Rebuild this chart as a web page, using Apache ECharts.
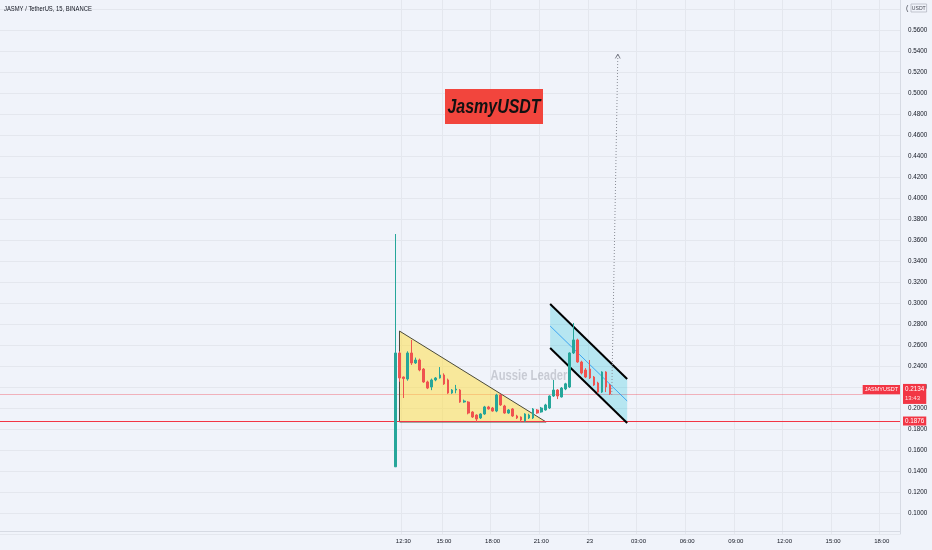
<!DOCTYPE html>
<html><head><meta charset="utf-8">
<script src="https://cdn.jsdelivr.net/npm/echarts@6/dist/echarts.min.js"></script>
<style>html,body{margin:0;padding:0;background:#f0f3fa;} #c{width:932px;height:550px;}</style>
</head><body><div id="c"></div>
<script>
// ---- time slots (15-minute bars) ----
const slotStartDay = 21, slotStartHour = 11, slotStartMinute = 45;
const slotCount = 222;
const xTickSlots  = ['22 12:30','22 15:00','22 18:00','22 21:00','23 00:00','23 03:00','23 06:00','23 09:00','23 12:00','23 15:00','23 18:00'];
const xTickLabels = ['12:30','15:00','18:00','21:00','23','03:00','06:00','09:00','12:00','15:00','18:00'];
const candleStartSlot = '22 12:00';

// ---- price axis ----
const yMin = 0.08, yMax = 0.60, yStep = 0.02;

// ---- candles [open, close, low, high] ----
const candles = [
 [0.1440,0.2524,0.1438,0.3657],[0.2524,0.2286,0.2250,0.2540],[0.2295,0.2280,0.2095,0.2300],[0.2276,0.2524,0.2260,0.2540],
 [0.2524,0.2429,0.2410,0.2648],[0.2429,0.2457,0.2420,0.2480],[0.2457,0.2362,0.2350,0.2470],[0.2371,0.2248,0.2240,0.2380],
 [0.2248,0.2190,0.2180,0.2260],[0.2200,0.2267,0.2170,0.2280],[0.2267,0.2286,0.2255,0.2295],[0.2286,0.2314,0.2280,0.2390],
 [0.2314,0.2229,0.2220,0.2330],[0.2267,0.2143,0.2135,0.2280],[0.2143,0.2171,0.2135,0.2180],[0.2171,0.2180,0.2140,0.2220],
 [0.2171,0.2057,0.2050,0.2180],[0.2057,0.2067,0.2050,0.2080],[0.2057,0.1952,0.1940,0.2065],[0.1962,0.1914,0.1905,0.1970],
 [0.1933,0.1895,0.1867,0.1940],[0.1905,0.1943,0.1895,0.1950],[0.1943,0.2010,0.1935,0.2020],[0.2010,0.1991,0.1985,0.2020],
 [0.2000,0.1971,0.1965,0.2010],[0.1971,0.2124,0.1960,0.2135],[0.2124,0.2029,0.2020,0.2135],[0.2019,0.1952,0.1945,0.2030],
 [0.1952,0.1981,0.1945,0.1990],[0.1991,0.1924,0.1915,0.2000],[0.1924,0.1905,0.1895,0.1935],[0.1914,0.1886,0.1867,0.1920],
 [0.1876,0.1943,0.1867,0.1950],[0.1905,0.1933,0.1895,0.1945],[0.1905,0.1991,0.1895,0.2000],[0.1981,0.1952,0.1945,0.1990],
 [0.1962,0.2000,0.1955,0.2010],[0.1981,0.2029,0.1975,0.2040],[0.2000,0.2114,0.1990,0.2120],[0.2114,0.2171,0.2105,0.2267],
 [0.2171,0.2114,0.2085,0.2180],[0.2105,0.2190,0.2100,0.2200],[0.2181,0.2230,0.2170,0.2240],[0.2200,0.2524,0.2190,0.2530],
 [0.2524,0.2648,0.2514,0.2810],[0.2648,0.2438,0.2430,0.2660],[0.2438,0.2333,0.2320,0.2450],[0.2362,0.2295,0.2285,0.2380],
 [0.2371,0.2286,0.2276,0.2457],[0.2295,0.2219,0.2210,0.2305],[0.2238,0.2152,0.2140,0.2250],[0.2152,0.2343,0.2143,0.2350],
 [0.2343,0.2200,0.2152,0.2350],[0.2219,0.2134,0.2124,0.2229]
];

// ---- price lines ----
const symbolName = 'JASMYUSDT';
const lastPrice = 0.2134, countdown = '13:43';
const supportPrice = 0.1876;

// ---- drawings: [bars after first candle, price] ----
const triangle     = [[1.04,0.2733],[1.04,0.1867],[37.2,0.1867]];
const channelUpper = [[38.2,0.2990],[57.2,0.2276]];
const channelLower = [[38.2,0.2571],[57.2,0.1857]];
const channelMid   = [[38.2,0.2781],[57.2,0.2067]];
const targetArrow  = [[53.4,0.2124],[54.9,0.5371]];

// ---- build ----
const pad = n => (n < 10 ? '0' : '') + n;
const categories = [];
const t0 = Date.UTC(2021, 0, slotStartDay, slotStartHour, slotStartMinute);
for (let i = 0; i < slotCount; i++) {
  const d = new Date(t0 + i * 900000);
  categories.push(pad(d.getUTCDate()) + ' ' + pad(d.getUTCHours()) + ':' + pad(d.getUTCMinutes()));
}
const tickIdx = new Map(xTickSlots.map((s, i) => [categories.indexOf(s), xTickLabels[i]]));
const base = categories.indexOf(candleStartSlot);
const seriesData = categories.map((c, i) => {
  const k = i - base;
  return (k >= 0 && k < candles.length) ? candles[k] : ['-', '-', '-', '-'];
});

const sans = "'Liberation Sans',Arial,sans-serif";
const clear = 'rgba(0,0,0,0)';
const chart = echarts.init(document.getElementById('c'), null, {renderer: 'canvas'});
chart.setOption({
  animation: false,
  backgroundColor: '#f0f3fa',
  grid: {left: 0, right: 32, top: -12, bottom: 16, containLabel: false, outerBoundsMode: 'none'},
  xAxis: {
    type: 'category', data: categories, offset: -3,
    axisLine: {lineStyle: {color: '#d6dae3'}},
    axisTick: {show: false},
    axisLabel: {interval: (i) => tickIdx.has(i), formatter: (v, i) => tickIdx.get(i) || '',
      fontSize: 6, color: '#131722', margin: 7, fontFamily: sans},
    splitLine: {show: true, interval: (i) => tickIdx.has(i), lineStyle: {color: '#e4e7ee'}}
  },
  yAxis: {
    type: 'value', position: 'right', min: yMin, max: yMax, interval: yStep,
    axisLine: {show: true, lineStyle: {color: '#d6dae3'}},
    axisTick: {show: false},
    axisLabel: {showMinLabel: false, showMaxLabel: false, margin: 8, fontSize: 6.3, color: '#131722',
      fontFamily: sans, formatter: v => v > 0.57 ? '' : v.toFixed(4)},
    splitLine: {show: true, lineStyle: {color: '#e4e7ee'}}
  },
  series: [
    {
      type: 'custom', z: 1, silent: true, data: [[0, 0.3]],
      renderItem: (params, api) => {
        const P = (pt) => {
          const ix = base + pt[0], f = Math.floor(ix);
          const a = api.coord([f, pt[1]]), b = api.coord([f + 1, pt[1]]);
          return [a[0] + (b[0] - a[0]) * (ix - f), a[1]];
        };
        const seg = (pts, style) => {
          const a = P(pts[0]), b = P(pts[1]);
          return {type: 'line', shape: {x1: a[0], y1: a[1], x2: b[0], y2: b[1]}, style};
        };
        const cs = params.coordSys;
        const hline = (price, color) => {
          const y = Math.round(api.coord([0, price])[1]) + 0.5;
          return {type: 'line', shape: {x1: cs.x, y1: y, x2: cs.x + cs.width, y2: y}, style: {stroke: color, lineWidth: 1}};
        };
        const aS = P(targetArrow[0]), aE = P(targetArrow[1]);
        const ang = Math.atan2(aE[1] - aS[1], aE[0] - aS[0]);
        const hl = 5, hw = 0.5;
        const h1 = [aE[0] - hl * Math.cos(ang - hw), aE[1] - hl * Math.sin(ang - hw)];
        const h2 = [aE[0] - hl * Math.cos(ang + hw), aE[1] - hl * Math.sin(ang + hw)];
        return {type: 'group', children: [
          hline(lastPrice, 'rgba(242,54,69,0.35)'),
          {type: 'polygon', shape: {points: triangle.map(P)},
            style: {fill: 'rgba(255,222,60,0.5)', stroke: '#4a4a3a', lineWidth: 1}},
          hline(supportPrice, '#f23645'),
          {type: 'polygon', shape: {points: [P(channelUpper[0]), P(channelUpper[1]), P(channelLower[1]), P(channelLower[0])]},
            style: {fill: 'rgba(0,188,212,0.24)'}},
          seg(channelMid, {stroke: 'rgba(33,150,243,0.8)', lineWidth: 1}),
          seg(channelUpper, {stroke: '#000', lineWidth: 2}),
          seg(channelLower, {stroke: '#000', lineWidth: 2}),
          {type: 'line', shape: {x1: aS[0], y1: aS[1], x2: aE[0], y2: aE[1]},
            style: {stroke: '#8a8d96', lineWidth: 1, lineDash: [1, 2]}},
          {type: 'polyline', shape: {points: [h1, aE, h2]}, style: {stroke: '#787b86', lineWidth: 1, fill: null}}
        ]};
      }
    },
    {
      type: 'candlestick', z: 2, data: seriesData, barWidth: 2.2,
      itemStyle: {color: '#26a69a', color0: '#ef5350', borderColor: '#26a69a', borderColor0: '#ef5350', borderWidth: 1},
      markLine: {
        silent: true, symbol: 'none', animation: false, precision: 4, z: 5,
        lineStyle: {color: clear, width: 1},
        data: [
          {yAxis: supportPrice, lineStyle: {color: clear},
            label: {position: 'end', distance: 3, formatter: supportPrice.toFixed(4), backgroundColor: '#f23645',
              color: '#fff', fontSize: 6.3, fontFamily: sans, padding: [2, 2, 1, 2]}},
          {yAxis: lastPrice, lineStyle: {color: clear},
            label: {position: 'end', distance: 3, formatter: '{a|' + lastPrice.toFixed(4) + '}\n{b|' + countdown + '}',
              backgroundColor: '#f23645', padding: [1, 2, 1, 2], color: '#fff',
              rich: {a: {fontSize: 6.3, color: '#fff', fontFamily: sans, lineHeight: 9}, b: {fontSize: 6, color: '#fde2e4', fontFamily: sans, lineHeight: 9}}}},
          {yAxis: lastPrice, lineStyle: {color: clear},
            label: {position: 'insideEndTop', distance: 0, formatter: symbolName, backgroundColor: '#f23645',
              color: '#fff', fontSize: 5.5, fontFamily: sans, padding: [2, 2, 1, 2]}}
        ]
      }
    }
  ],
  graphic: [
    {type: 'text', x: 4, y: 9, scaleX: 0.78, z: 10, style: {text: 'JASMY / TetherUS, 15, BINANCE', fill: '#131722', verticalAlign: 'middle',
      font: "7.5px 'Liberation Sans',sans-serif"}},
    {type: 'rect', shape: {x: 445, y: 89, width: 98, height: 35}, style: {fill: '#f2453d'}, z: 10},
    {type: 'text', x: 494, y: 107, scaleX: 0.76, z: 11, style: {text: 'JasmyUSDT', fill: '#111', align: 'center', verticalAlign: 'middle',
      font: "italic bold 21px 'Liberation Sans',sans-serif"}},
    {type: 'text', x: 529, y: 376, scaleX: 0.75, z: 3, style: {text: 'Aussie Leader', fill: 'rgba(110,113,125,0.3)', align: 'center', verticalAlign: 'middle',
      font: "bold 15px 'Liberation Sans',sans-serif"}},
    {type: 'text', x: 906, y: 8, z: 10, style: {text: '(', fill: '#434651', verticalAlign: 'middle', font: "7px 'Liberation Sans',sans-serif"}},
    {type: 'text', x: 911, y: 8, scaleX: 0.85, z: 10, style: {text: 'USDT', fill: '#434651', verticalAlign: 'middle', borderColor: '#b2b5be', borderWidth: 0.8,
      padding: [1, 1, 1, 1], font: "6px 'Liberation Sans',sans-serif"}}
  ]
});
</script></body></html>
